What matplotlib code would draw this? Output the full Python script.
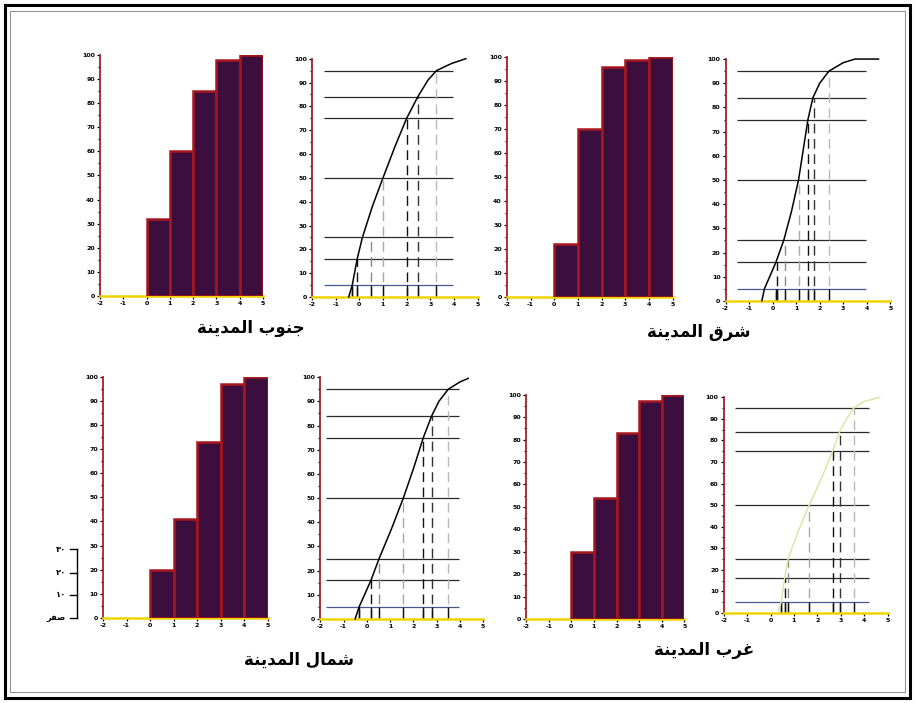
import numpy as np
import matplotlib.pyplot as plt
from matplotlib.patches import Rectangle
from matplotlib.lines import Line2D
from matplotlib.ticker import MultipleLocator

# ---- data ----
bin_left = [0, 1, 2, 3, 4]
xtick_vals = [-2, -1, 0, 1, 2, 3, 4, 5]
pcts = [5, 16, 25, 50, 75, 84, 95]

south_cum = [32, 60, 85, 98, 100]
east_cum = [22, 70, 96, 99, 100]
north_cum = [20, 41, 73, 97, 100]
west_cum = [30, 54, 83, 97, 100]

south_cx = [-0.45, -0.3, -0.09, 0.13, 0.55, 1.0, 1.5, 2.0, 2.47, 2.9, 3.26, 3.9, 4.5]
south_cy = [0, 5, 16, 25, 38, 50, 63, 75, 84, 91, 95, 98, 100]
south_phi = [-0.3, -0.09, 0.49, 1.0, 2.0, 2.47, 3.26]

east_cx = [-0.46, -0.35, 0.14, 0.47, 0.8, 1.1, 1.5, 1.71, 2.0, 2.39, 3.0, 3.5, 4.5]
east_cy = [0, 5, 16, 25, 37, 50, 75, 84, 90, 95, 98.5, 100, 100]
east_phi = [0.15, 0.17, 0.53, 1.1, 1.5, 1.76, 2.39]

north_cx = [-0.5, -0.33, 0.18, 0.53, 1.05, 1.57, 2.0, 2.43, 2.79, 3.1, 3.5, 4.0, 4.36]
north_cy = [0, 5, 16, 25, 37, 50, 62, 75, 84, 90, 95, 98, 99.5]
north_phi = [-0.33, 0.18, 0.53, 1.57, 2.43, 2.79, 3.5]

west_cx = [0.3, 0.45, 0.6, 0.75, 1.15, 1.65, 2.2, 2.65, 2.95, 3.25, 3.55, 4.0, 4.66]
west_cy = [0, 5, 16, 25, 37, 50, 63, 75, 84, 90, 95, 98, 100]
west_phi = [0.45, 0.6, 0.75, 1.65, 2.65, 2.95, 3.55]

titles = ['جنوب المدينة', 'شرق المدينة', 'شمال المدينة', 'غرب المدينة']
legend_labels = ['٣٠', '٢٠', '١٠', 'صفر']

# styles
bar_face = '#3b0e3d'
bar_edge = '#a8161e'
spine_red = '#a3202c'
axis_yellow = '#f0d400'
vcolors = ['#111111', '#111111', '#8a8a8a', '#a8a8a8', '#111111', '#333333', '#b8b8b8']

# ---- simple arabic shaping (matplotlib has no bidi / joining) ----
FORMS = {
    'ا': ('\uFE8D', '\uFE8E'), 'ة': ('\uFE93', '\uFE94'), 'د': ('\uFEA9', '\uFEAA'),
    'ر': ('\uFEAD', '\uFEAE'), 'و': ('\uFEED', '\uFEEE'),
    'ب': ('\uFE8F', '\uFE90', '\uFE91', '\uFE92'), 'ج': ('\uFE9D', '\uFE9E', '\uFE9F', '\uFEA0'),
    'ش': ('\uFEB5', '\uFEB6', '\uFEB7', '\uFEB8'), 'ص': ('\uFEB9', '\uFEBA', '\uFEBB', '\uFEBC'),
    'غ': ('\uFECD', '\uFECE', '\uFECF', '\uFED0'), 'ف': ('\uFED1', '\uFED2', '\uFED3', '\uFED4'),
    'ق': ('\uFED5', '\uFED6', '\uFED7', '\uFED8'), 'ل': ('\uFEDD', '\uFEDE', '\uFEDF', '\uFEE0'),
    'م': ('\uFEE1', '\uFEE2', '\uFEE3', '\uFEE4'), 'ن': ('\uFEE5', '\uFEE6', '\uFEE7', '\uFEE8'),
    'ي': ('\uFEF1', '\uFEF2', '\uFEF3', '\uFEF4'),
}


def shape(s):
    # digits keep their left-to-right order
    if not any(ch in FORMS for ch in s):
        return s
    out = []
    for i, ch in enumerate(s):
        if ch not in FORMS:
            out.append(ch)
            continue
        f = FORMS[ch]
        prev = s[i - 1] if i > 0 else ''
        nxt = s[i + 1] if i + 1 < len(s) else ''
        jp = prev in FORMS and len(FORMS[prev]) == 4
        jn = len(f) == 4 and nxt in FORMS
        if jp and jn:
            out.append(f[3])
        elif jp:
            out.append(f[1])
        elif jn:
            out.append(f[2])
        else:
            out.append(f[0])
    return ''.join(out)[::-1]


def style(ax):
    ax.set_xlim(-2, 5)
    ax.set_ylim(0, 100)
    ax.spines['top'].set_visible(False)
    ax.spines['right'].set_visible(False)
    ax.spines['left'].set_color(spine_red)
    ax.spines['left'].set_linewidth(1.3)
    ax.spines['bottom'].set_color(axis_yellow)
    ax.spines['bottom'].set_linewidth(1.8)
    ax.set_xticks(xtick_vals)
    ax.set_xticklabels([str(v) for v in xtick_vals])
    ax.yaxis.set_major_locator(MultipleLocator(10))
    ax.yaxis.set_minor_locator(MultipleLocator(5))
    ax.tick_params(axis='both', which='major', length=2.2, width=0.9, pad=1.5,
                   labelsize=4.5, colors='black')
    ax.tick_params(axis='y', which='minor', length=1.5, width=0.9)
    for lab in ax.get_xticklabels() + ax.get_yticklabels():
        lab.set_fontweight('bold')
    ax.patch.set_alpha(0)


def hist_panel(rect, cum):
    ax = fig.add_axes(rect)
    ax.bar(bin_left, cum, width=1, align='edge', color=bar_face,
           edgecolor=bar_edge, linewidth=1.8, zorder=3)
    style(ax)
    return ax


def curve_panel(rect, cx, cy, phi, curve_color='black', hx=(-1.5, 3.95)):
    ax = fig.add_axes(rect)
    for p in pcts:
        c = '#4a5890' if p == 5 else '#2a2a2a'
        ax.hlines(p, hx[0], hx[1], colors=c, linewidth=0.9, zorder=2)
    for v, p, c in zip(phi, pcts, vcolors):
        ax.vlines(v, 0, p, colors=c, linewidth=1.0, linestyles=(0, (7, 4)), zorder=2)
        ax.vlines(v, 0, 5, colors='#111111', linewidth=1.0, zorder=2)
    ax.plot(cx, cy, color=curve_color, linewidth=1.1, zorder=4, clip_on=False)
    style(ax)
    return ax


fig = plt.figure(figsize=(9.15, 7.03), dpi=100)

hist_panel([0.1093, 0.579, 0.178, 0.343], south_cum)
curve_panel([0.341, 0.5775, 0.181, 0.339], south_cx, south_cy, south_phi)
hist_panel([0.554, 0.5775, 0.181, 0.341], east_cum)
curve_panel([0.793, 0.572, 0.180, 0.344], east_cx, east_cy, east_phi)

hist_panel([0.1126, 0.121, 0.180, 0.343], north_cum)
curve_panel([0.350, 0.1195, 0.178, 0.344], north_cx, north_cy, north_phi, hx=(-1.75, 3.95))
hist_panel([0.575, 0.1195, 0.173, 0.319], west_cum)
curve_panel([0.791, 0.128, 0.179, 0.307], west_cx, west_cy, west_phi,
            curve_color='#dfe3a6', hx=(-1.5, 4.2))

# panel titles
tfont = dict(fontsize=12, fontweight='bold', family='DejaVu Sans', ha='center', va='center')
fig.text(0.274, 0.533, shape(titles[0]), **tfont)
fig.text(0.764, 0.528, shape(titles[1]), **tfont)
fig.text(0.327, 0.061, shape(titles[2]), **tfont)
fig.text(0.769, 0.075, shape(titles[3]), **tfont)

# small scale bracket bottom-left
bx = 0.0842
ys = [0.219, 0.185, 0.154, 0.121]
fig.add_artist(Line2D([bx, bx], [ys[0], ys[-1]], color='black', lw=1.0, transform=fig.transFigure))
for y, lab in zip(ys, legend_labels):
    fig.add_artist(Line2D([bx - 0.0077, bx], [y, y], color='black', lw=1.0,
                          transform=fig.transFigure))
    fig.text(bx - 0.012, y, shape(lab), fontsize=6, fontweight='bold',
             ha='right', va='center', family='DejaVu Sans')

# outer frame
fig.add_artist(Rectangle((0.005, 0.007), 0.99, 0.986, fill=False, lw=2.2,
                         edgecolor='black', transform=fig.transFigure))
fig.add_artist(Rectangle((0.011, 0.015), 0.978, 0.97, fill=False, lw=0.6,
                         edgecolor='#777777', transform=fig.transFigure))

fig.savefig('out.png', dpi=100)
